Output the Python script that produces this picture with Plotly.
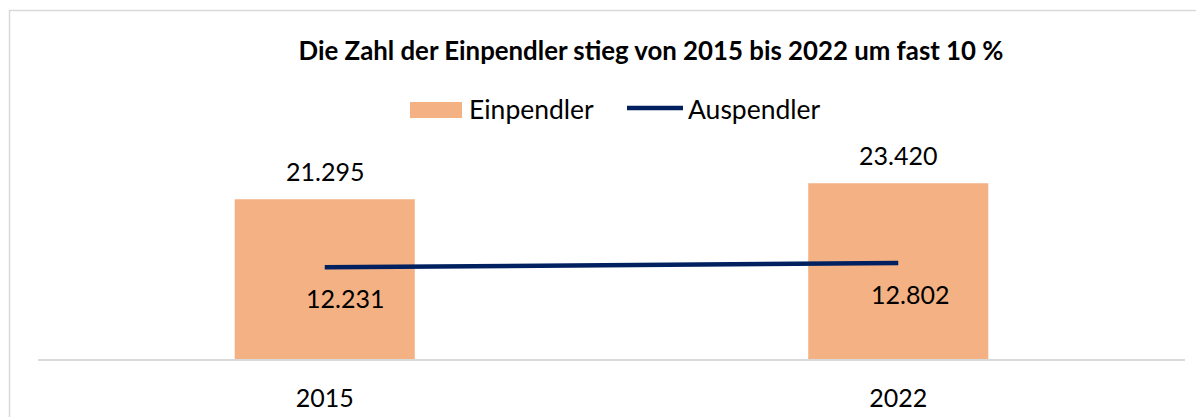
import plotly.graph_objects as go

# ---- data ----
years = ["2015", "2022"]
einpendler = [21295, 23420]
auspendler = [12231, 12802]
series_names = ["Einpendler", "Auspendler"]
title_text = "Die Zahl der Einpendler stieg von 2015 bis 2022 um fast 10 %"

# ---- style ----
W, H = 1204, 417
OFF = 8  # page body margin
PL, PR, PT, PB = 38, 1185, 134, 359  # plot area in screen px
BAR_COLOR = "#F4B183"
LINE_COLOR = "#002060"
GRID = "#D9D9D9"
FONT = "Lato"

xpos = list(range(len(years)))


def fmt(v):
    return f"{v:,}".replace(",", ".")


def px_x(x):
    return (x - PL) / (PR - PL)


def px_y(y):
    return (PB - y) / (PB - PT)


fig = go.Figure()
fig.add_trace(go.Bar(
    x=xpos, y=einpendler, name=series_names[0],
    marker=dict(color=BAR_COLOR, line=dict(width=0)),
    width=0.314, showlegend=False, hoverinfo="skip",
))
fig.add_trace(go.Scatter(
    x=xpos, y=auspendler, name=series_names[1], mode="lines",
    line=dict(color=LINE_COLOR, width=4.5), showlegend=False, hoverinfo="skip",
))

annotations = []
for xi, v in zip(xpos, einpendler):
    annotations.append(dict(x=xi, y=v, xref="x", yref="y", text=fmt(v),
                            showarrow=False, yshift=28,
                            font=dict(family=FONT, size=25, color="#000000")))
for xi, v in zip(xpos, auspendler):
    annotations.append(dict(x=xi, y=v, xref="x", yref="y", text=fmt(v),
                            showarrow=False, yshift=-31, xshift=20 if xi == 0 else 12,
                            font=dict(family=FONT, size=25, color="#000000")))

# custom legend
annotations.append(dict(x=px_x(467), y=px_y(109), xref="paper", yref="paper",
                        text=series_names[0], showarrow=False, xanchor="left", yanchor="middle",
                        font=dict(family=FONT, size=26.5, color="#000000")))
annotations.append(dict(x=px_x(686), y=px_y(109), xref="paper", yref="paper",
                        text=series_names[1], showarrow=False, xanchor="left", yanchor="middle",
                        font=dict(family=FONT, size=26.5, color="#000000")))

shapes = [
    # chart border
    dict(type="rect", xref="paper", yref="paper",
         x0=px_x(9.5), x1=px_x(1215), y0=px_y(430), y1=px_y(10.5),
         line=dict(color=GRID, width=1.5), fillcolor="rgba(0,0,0,0)", layer="below"),
    # legend symbols
    dict(type="rect", xref="paper", yref="paper",
         x0=px_x(410), x1=px_x(462), y0=px_y(118), y1=px_y(102),
         line=dict(width=0), fillcolor=BAR_COLOR),
    dict(type="line", xref="paper", yref="paper",
         x0=px_x(627), x1=px_x(683), y0=px_y(108), y1=px_y(108),
         line=dict(color=LINE_COLOR, width=4.5)),
]

fig.update_layout(
    width=W, height=H,
    margin=dict(l=PL - OFF, r=W - (PR - OFF), t=PT - OFF, b=H - (PB - OFF),
                pad=0, autoexpand=False),
    paper_bgcolor="white", plot_bgcolor="white",
    title=dict(text="<b>" + title_text + "</b>", xref="container", yref="container",
               x=(651 - OFF) / W, y=1 - (51 - OFF) / H, xanchor="center", yanchor="middle",
               font=dict(family=FONT, size=25.8, color="#000000"), automargin=False),
    xaxis=dict(range=[-0.5, len(years) - 0.5], tickvals=xpos, ticktext=years,
               showline=True, linecolor=GRID, linewidth=2, automargin=False,
               showgrid=False, ticks="", ticklabelstandoff=16, fixedrange=True,
               tickfont=dict(family=FONT, size=25, color="#000000"), zeroline=False),
    yaxis=dict(range=[0, 30000], visible=False, showgrid=False, zeroline=False,
               automargin=False, fixedrange=True),
    annotations=annotations, shapes=shapes,
    showlegend=False,
)

fig.write_html("out.html")
